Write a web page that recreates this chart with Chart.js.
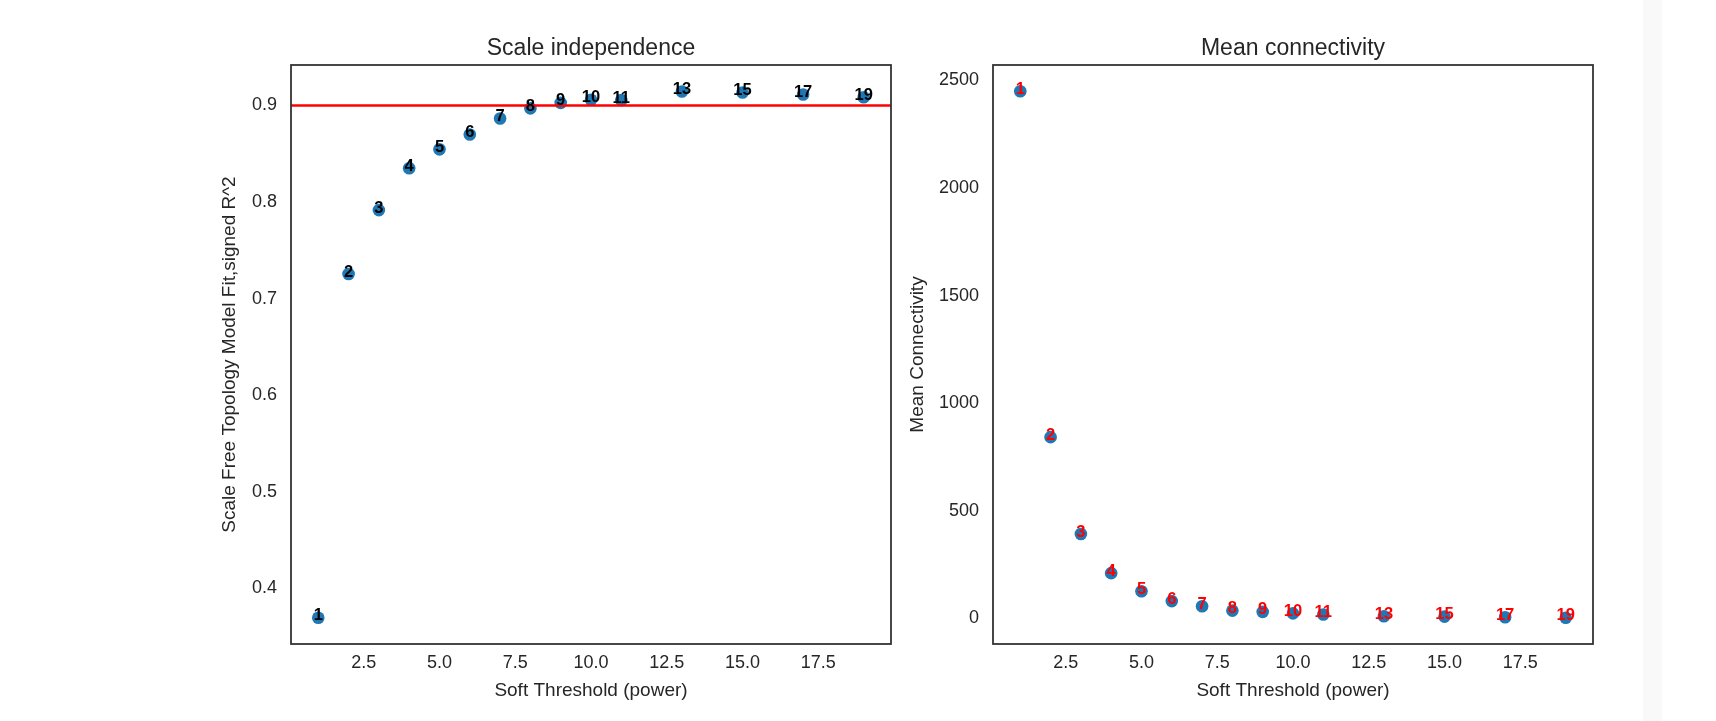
<!DOCTYPE html>
<html><head><meta charset="utf-8">
<script src="https://cdn.jsdelivr.net/npm/chart.js@4.4.0/dist/chart.umd.min.js"></script>
<style>
html,body{margin:0;padding:0;background:#fff;width:1716px;height:721px;overflow:hidden;}
#c1{position:absolute;left:0;top:0;}
#c2{position:absolute;left:900px;top:0;}
#strip{position:absolute;left:1643px;top:0;width:19px;height:721px;background:#f9f9f9;}
</style></head><body>
<div id="strip"></div>
<canvas id="c1" width="900" height="721"></canvas>
<canvas id="c2" width="700" height="721"></canvas>
<script>
// ---- data ----
const powers = [1, 2, 3, 4, 5, 6, 7, 8, 9, 10, 11, 13, 15, 17, 19];
const scaleFreeFit = [0.3697, 0.7255, 0.7917, 0.8350, 0.8546, 0.8700, 0.8865, 0.8970, 0.9027, 0.9060, 0.9055, 0.9145, 0.9135, 0.9113, 0.9085];
const meanConnectivity = [2449, 842, 392, 210, 126, 80, 56, 36, 30, 23, 18, 10, 8, 5, 3];
const rsqCutoff = 0.9;
const xRange = [0.1, 19.9];
const fitRange = [0.3425, 0.9419];
const connRange = [-119.3, 2571.3];
const xTicks = [2.5, 5, 7.5, 10, 12.5, 15, 17.5];
const fitTicks = [0.4, 0.5, 0.6, 0.7, 0.8, 0.9];
const connTicks = [0, 500, 1000, 1500, 2000, 2500];
const titles = ['Scale independence', 'Mean connectivity'];
const xLabel = 'Soft Threshold (power)';
const yLabels = ['Scale Free Topology Model Fit,signed R^2', 'Mean Connectivity'];

// ---- styling ----
const FONT = '"Liberation Sans", Arial, sans-serif';
const TXT = '#262626';
Chart.defaults.font.family = FONT;
Chart.defaults.color = TXT;

const pointLabels = {
  id: 'pointLabels',
  afterDatasetsDraw(chart, args, opts) {
    const meta = chart.getDatasetMeta(0);
    const ctx = chart.ctx;
    ctx.save();
    ctx.font = 'bold 16.5px ' + FONT;
    ctx.fillStyle = opts.color;
    ctx.textAlign = 'center';
    ctx.textBaseline = 'middle';
    meta.data.forEach((pt, i) => ctx.fillText(String(powers[i]), pt.x, pt.y - 2));
    ctx.restore();
  }
};
const frame = {
  id: 'frame',
  afterDraw(chart) {
    const a = chart.chartArea, ctx = chart.ctx;
    ctx.save();
    ctx.strokeStyle = '#333333';
    ctx.lineWidth = 1.8;
    ctx.strokeRect(a.left, a.top, a.right - a.left, a.bottom - a.top);
    ctx.restore();
  }
};

function makeChart(id, cfg) {
  const datasets = [{
    data: powers.map((p, i) => ({x: p, y: cfg.values[i]})),
    backgroundColor: '#1f77b4',
    borderWidth: 0,
    pointRadius: 6.3,
    order: 2
  }];
  if (cfg.cutoff !== undefined) {
    datasets.push({
      data: [{x: xRange[0], y: cfg.cutoff}, {x: xRange[1], y: cfg.cutoff}],
      showLine: true,
      borderColor: '#ff0000',
      borderWidth: 2.5,
      pointRadius: 0,
      order: 1
    });
  }
  return new Chart(document.getElementById(id), {
    type: 'scatter',
    data: {datasets},
    plugins: [pointLabels, frame],
    options: {
      responsive: false,
      animation: false,
      devicePixelRatio: 1,
      layout: {padding: {left: 0, right: cfg.padRight, top: 0, bottom: 0}},
      plugins: {
        legend: {display: false},
        tooltip: {enabled: false},
        title: {
          display: true, text: cfg.title, fullSize: false,
          color: TXT, font: {size: 23, weight: 'normal', family: FONT, lineHeight: 1.2},
          padding: {top: 35.2, bottom: 2.2}
        },
        pointLabels: {color: cfg.labelColor}
      },
      scales: {
        x: {
          type: 'linear', min: xRange[0], max: xRange[1],
          grid: {display: false, drawTicks: false},
          border: {display: false},
          afterBuildTicks: s => { s.ticks = xTicks.map(v => ({value: v})); },
          afterFit: s => { s.height = 77; },
          ticks: {padding: 8, font: {size: 18, family: FONT}, color: TXT,
                  callback: v => Number(v).toFixed(1), maxRotation: 0, autoSkip: false},
          title: {display: true, text: xLabel, color: TXT,
                  font: {size: 19, family: FONT, lineHeight: 1.2}, padding: {top: 0, bottom: 19}}
        },
        y: {
          type: 'linear', min: cfg.range[0], max: cfg.range[1],
          grid: {display: false, drawTicks: false},
          border: {display: false},
          afterBuildTicks: s => { s.ticks = cfg.ticks.map(v => ({value: v})); },
          afterFit: s => { s.width = cfg.yWidth; },
          ticks: {padding: 14, font: {size: 18, family: FONT}, color: TXT,
                  callback: cfg.fmt, autoSkip: false},
          title: {display: true, text: cfg.yLabel, color: TXT,
                  font: {size: 19, family: FONT, lineHeight: 1.2}, padding: {top: cfg.yTitlePad, bottom: 0}}
        }
      }
    }
  });
}

makeChart('c1', {
  values: scaleFreeFit, cutoff: rsqCutoff, range: fitRange, ticks: fitTicks,
  fmt: v => Number(v).toFixed(1), title: titles[0], yLabel: yLabels[0],
  labelColor: '#000000', yWidth: 291, padRight: 9, yTitlePad: 218.6
});
makeChart('c2', {
  values: meanConnectivity, range: connRange, ticks: connTicks,
  fmt: v => String(Math.round(v)), title: titles[1], yLabel: yLabels[1],
  labelColor: '#ff0000', yWidth: 93, padRight: 7, yTitlePad: 6.6
});
</script>
</body></html>
